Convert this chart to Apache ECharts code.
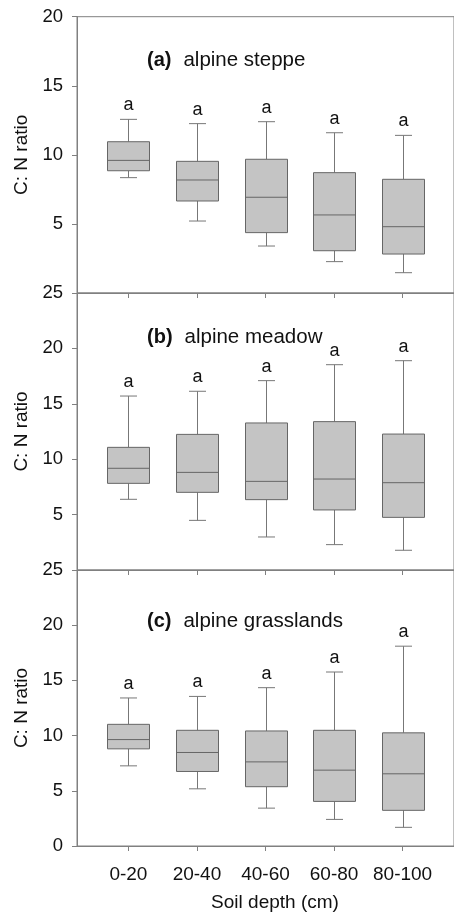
<!DOCTYPE html>
<html>
<head>
<meta charset="utf-8">
<style>
  html, body { margin: 0; padding: 0; background: #fff; }
  #chart { width: 454px; height: 913px; }
</style>
<script src="https://cdn.jsdelivr.net/npm/echarts@6/dist/echarts.min.js"></script>
</head>
<body>
<div id="chart"></div>
<script>
// ---- data ----
const categories = ['0-20', '20-40', '40-60', '60-80', '80-100'];
// each row: [min, Q1, median, Q3, max]
const steppeBoxes = [
  [8.35, 8.85, 9.60, 10.95, 12.57],
  [5.21, 6.66, 8.18, 9.53, 12.26],
  [3.40, 4.37, 6.93, 9.68, 12.40],
  [2.27, 3.06, 5.65, 8.71, 11.60],
  [1.47, 2.82, 4.80, 8.23, 11.41]
];
const meadowBoxes = [
  [6.38, 7.82, 9.18, 11.07, 15.70],
  [4.48, 7.01, 8.81, 12.24, 16.13],
  [2.98, 6.35, 8.00, 13.27, 17.09],
  [2.29, 5.42, 8.21, 13.39, 18.53],
  [1.78, 4.75, 7.88, 12.27, 18.89]
];
const grasslandBoxes = [
  [7.26, 8.80, 9.64, 11.02, 13.41],
  [5.18, 6.75, 8.47, 10.48, 13.55],
  [3.43, 5.37, 7.62, 10.42, 14.34],
  [2.41, 4.04, 6.87, 10.48, 15.76],
  [1.69, 3.23, 6.54, 10.25, 18.10]
];
const steppeLetters = ['a', 'a', 'a', 'a', 'a'];
const meadowLetters = ['a', 'a', 'a', 'a', 'a'];
const grasslandLetters = ['a', 'a', 'a', 'a', 'a'];
const panelTags = ['(a)', '(b)', '(c)'];
const panelNames = ['alpine steppe', 'alpine meadow', 'alpine grasslands'];
const yMaxes = [20, 25, 25];
const yInterval = 5;
const yAxisName = 'C: N ratio';
const xAxisName = 'Soil depth (cm)';

// ---- styles ----
const FONT = "'Liberation Sans', Arial, Helvetica, sans-serif";
const AXIS_COLOR = '#808080';
const BOX_STROKE = '#666666';
const BOX_FILL = '#c4c4c4';
const WHISKER = '#777777';
const TEXT = '#111';

const gridTops = [16.7, 293, 570];
const gridHeights = [276.3, 277, 276.7];
const catIndex = categories.map((c, i) => i);

function makeRender(letters) {
  return function (params, api) {
    const x = api.value(0);
    const pMin = api.coord([x, api.value(1)]);
    const pQ1 = api.coord([x, api.value(2)]);
    const pMed = api.coord([x, api.value(3)]);
    const pQ3 = api.coord([x, api.value(4)]);
    const pMax = api.coord([x, api.value(5)]);
    const cx = Math.round(pMed[0]) + 0.5;
    const hw = 21, cw = 8.5;
    const ls = { stroke: WHISKER, lineWidth: 1 };
    return {
      type: 'group',
      children: [
        { type: 'line', shape: { x1: cx, y1: pMax[1], x2: cx, y2: pQ3[1] }, style: ls },
        { type: 'line', shape: { x1: cx, y1: pQ1[1], x2: cx, y2: pMin[1] }, style: ls },
        { type: 'line', shape: { x1: cx - cw, y1: pMax[1], x2: cx + cw, y2: pMax[1] }, style: ls },
        { type: 'line', shape: { x1: cx - cw, y1: pMin[1], x2: cx + cw, y2: pMin[1] }, style: ls },
        { type: 'rect', shape: { x: cx - hw, y: pQ3[1], width: 2 * hw, height: pQ1[1] - pQ3[1] },
          style: { fill: BOX_FILL, stroke: BOX_STROKE, lineWidth: 1 } },
        { type: 'line', shape: { x1: cx - hw, y1: pMed[1], x2: cx + hw, y2: pMed[1] },
          style: { stroke: BOX_STROKE, lineWidth: 1 } },
        { type: 'text', style: { text: letters[params.dataIndex], x: cx, y: pMax[1] - 5,
          align: 'center', verticalAlign: 'bottom', fontSize: 18, fontFamily: FONT, fill: TEXT } }
      ]
    };
  };
}

const allBoxes = [steppeBoxes, meadowBoxes, grasslandBoxes];
const allLetters = [steppeLetters, meadowLetters, grasslandLetters];

const grids = [], xAxes = [], yAxes = [], series = [], titles = [];
for (let g = 0; g < 3; g++) {
  const last = g === 2;
  grids.push({
    left: 77, width: 385, top: gridTops[g], height: gridHeights[g],
    show: true, borderColor: AXIS_COLOR, borderWidth: 1, backgroundColor: 'transparent'
  });
  xAxes.push({
    gridIndex: g, type: 'value', min: -0.75, max: 4.75,
    axisLine: { show: true, onZero: false, lineStyle: { color: AXIS_COLOR, width: 1 } },
    axisTick: { show: true, customValues: catIndex, length: 5, lineStyle: { color: AXIS_COLOR } },
    axisLabel: {
      show: last, customValues: catIndex, margin: 19,
      formatter: v => categories[Math.round(v)], fontSize: 19, fontFamily: FONT, color: TEXT
    },
    splitLine: { show: false },
    name: last ? xAxisName : '', nameLocation: 'middle', nameGap: 47,
    nameTextStyle: { fontSize: 19, fontFamily: FONT, color: TEXT, padding: [0, 0, 0, 19] }
  });
  yAxes.push({
    gridIndex: g, type: 'value', min: 0, max: yMaxes[g], interval: yInterval,
    axisLine: { show: true, onZero: false, lineStyle: { color: AXIS_COLOR, width: 1 } },
    axisTick: { show: true, length: 5, lineStyle: { color: AXIS_COLOR } },
    axisLabel: { showMinLabel: last, margin: 14, fontSize: 18.5, fontFamily: FONT, color: TEXT },
    splitLine: { show: false },
    name: yAxisName, nameLocation: 'middle', nameGap: 46,
    nameTextStyle: { fontSize: 19, fontFamily: FONT, color: TEXT }
  });
  series.push({
    type: 'custom', xAxisIndex: g, yAxisIndex: g,
    renderItem: makeRender(allLetters[g]),
    encode: { x: 0, y: [1, 2, 3, 4, 5] },
    data: allBoxes[g].map((b, i) => [i].concat(b)),
    clip: false, silent: true
  });
  titles.push({
    text: '{b|' + panelTags[g] + '}{n|' + panelNames[g] + '}',
    left: 147, top: gridTops[g] + [33.6, 34.2, 40.6][g], padding: 0,
    textStyle: {
      rich: {
        b: { fontSize: 20, fontWeight: 'bold', fontFamily: FONT, color: TEXT, padding: [0, 12, 0, 0] },
        n: { fontSize: 20.5, fontWeight: 'normal', fontFamily: FONT, color: TEXT }
      }
    }
  });
}

const chart = echarts.init(document.getElementById('chart'), null, { renderer: 'canvas' });
chart.setOption({
  animation: false,
  backgroundColor: '#fff',
  title: titles,
  grid: grids,
  xAxis: xAxes,
  yAxis: yAxes,
  series: series
});
</script>
</body>
</html>
